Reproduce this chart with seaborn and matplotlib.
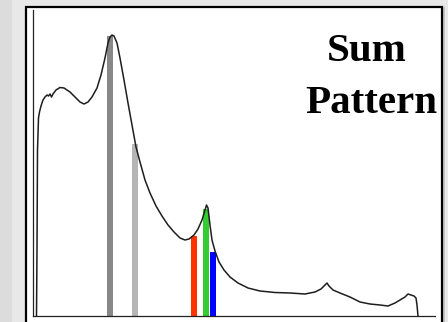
import numpy as np
import pandas as pd
import matplotlib
matplotlib.use("Agg")
import matplotlib.pyplot as plt
from matplotlib.patches import Rectangle
import seaborn as sns

# ---- data (x: scan position 0-402, y: intensity 0-306, arbitrary units) ----
curve_x = [3.5, 4, 4.5, 5.5, 6.5, 8, 10, 12, 14, 15.5,
           17, 18.5, 20, 23, 27, 31, 37, 43, 47, 51,
           55, 59, 64, 68, 72, 75, 77, 79, 81, 84,
           87, 91, 95, 99, 103, 107, 112, 117, 123, 129,
           135, 141, 147, 152, 156, 161, 165, 169, 172, 173.5,
           175, 177, 179, 182, 186, 191, 197, 205, 215, 227,
           242, 257, 272, 282, 288, 292, 294, 296, 300, 307,
           317, 327, 337, 347, 355, 362, 367, 372, 375, 378,
           381, 383, 384, 385]
curve_y = [0, 66, 166, 198, 204, 210, 216, 219, 221, 220,
           222, 219, 222, 226, 228.5, 228, 224, 218, 214, 212,
           214, 219, 228, 241, 258, 273, 279, 281, 280, 273,
           258, 236, 213, 191, 169, 154, 136, 123, 110, 100,
           91, 84, 78, 76, 77, 81, 87, 96, 106, 111,
           108, 91, 76, 65, 54, 46, 39, 33, 28, 25,
           23.5, 23, 22, 24, 27, 31, 33, 30, 26, 23,
           19, 14, 12, 11, 10, 13, 16, 19, 22, 21,
           20, 18, 11, 0]
peak_pos = [77, 102, 161, 173, 180]
peak_height = [280, 172, 80, 107, 64]
peak_colors = ["#888888", "#b5b5b5", "#ff3300", "#33cc33", "#0000ff"]
title_lines = ["Sum", "Pattern"]

df = pd.DataFrame({"x": curve_x, "y": curve_y})

sns.set_theme(style="white")

W, H = 448, 322
fig = plt.figure(figsize=(W / 100, H / 100), dpi=100, facecolor="#e8e8e8")

# background strips and panel
fig.patches.append(Rectangle((0, 0), 12 / W, 1, transform=fig.transFigure,
                             facecolor="#dcdcdc", edgecolor="none", zorder=0))
fig.patches.append(Rectangle((443 / W, -0.1), 2 / W, 1.1 - 7 / H, transform=fig.transFigure,
                             facecolor="#c4c4c4", edgecolor="none", zorder=0))
fig.patches.append(Rectangle((26 / W, -0.1), 416 / W, 1.1 - 7 / H, transform=fig.transFigure,
                             facecolor="white", edgecolor="black", linewidth=1.6, zorder=1))

ax = fig.add_axes([33 / W, 6 / H, (435 - 33) / W, (316 - 10) / H])
ax.set_facecolor("none")
ax.set_zorder(2)

ax.bar(peak_pos, peak_height, width=6, color=peak_colors, zorder=2, linewidth=0)
sns.lineplot(data=df, x="x", y="y", ax=ax, color="#1e1e1e", linewidth=1.1,
             sort=False, estimator=None, zorder=3)

ax.set_xlim(0, 402)
ax.set_ylim(0, 306)
ax.set_xticks([])
ax.set_yticks([])
ax.set_xlabel("")
ax.set_ylabel("")
for s in ["top", "right"]:
    ax.spines[s].set_visible(False)
for s in ["left", "bottom"]:
    ax.spines[s].set_visible(True)
    ax.spines[s].set_color("#222222")
    ax.spines[s].set_linewidth(0.9)

fig.text(367 / W, 1 - 61 / H, title_lines[0], ha="center", va="baseline", color="black",
         fontsize=29.5, fontweight="bold", family="Liberation Serif", zorder=4)
fig.text(371.5 / W, 1 - 113 / H, title_lines[1], ha="center", va="baseline", color="black",
         fontsize=29.5, fontweight="bold", family="Liberation Serif", zorder=4)

fig.savefig("out.png", dpi=100, facecolor=fig.get_facecolor())
